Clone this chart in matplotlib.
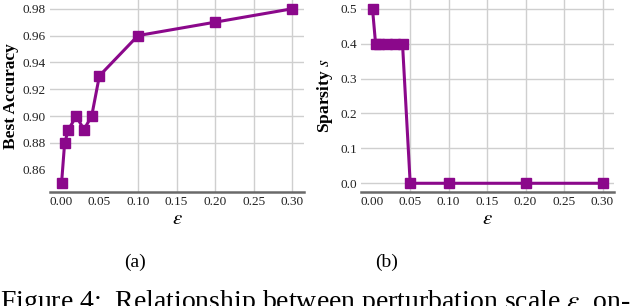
import matplotlib
matplotlib.use("Agg")
import matplotlib.pyplot as plt

# data
eps = [0.001, 0.005, 0.01, 0.02, 0.03, 0.04, 0.05, 0.1, 0.2, 0.3]
best_acc = [0.85, 0.88, 0.89, 0.90, 0.89, 0.90, 0.93, 0.96, 0.97, 0.98]
sparsity = [0.5, 0.4, 0.4, 0.4, 0.4, 0.4, 0.0, 0.0, 0.0, 0.0]
xticks = [0.0, 0.05, 0.10, 0.15, 0.20, 0.25, 0.30]
acc_ticks = [0.86, 0.88, 0.90, 0.92, 0.94, 0.96, 0.98]
sp_ticks = [0.0, 0.1, 0.2, 0.3, 0.4, 0.5]

plt.rcParams['font.family'] = ['Liberation Serif', 'DejaVu Serif']
plt.rcParams['mathtext.fontset'] = 'stix'

W, H = 640, 306
fig = plt.figure(figsize=(W / 100, H / 100), dpi=100)

purple = '#8b088b'
grid_c = '#cfcfcf'


def px_axes(x0, x1, y0, y1):
    # pixel box (top-left origin) -> figure fraction
    return fig.add_axes([x0 / W, 1 - y1 / H, (x1 - x0) / W, (y1 - y0) / H])


def style(ax, yvals, yt, yfmt):
    ax.plot(eps, yvals, color=purple, lw=2.2, marker='s', ms=6.5,
            mec=purple, mfc=purple, zorder=3)
    ax.set_xticks(xticks)
    ax.set_xticklabels(['%.2f' % t for t in xticks])
    ax.set_yticks(yt)
    ax.set_yticklabels([yfmt % t for t in yt])
    ax.grid(True, color=grid_c, lw=1.0, zorder=0)
    ax.set_axisbelow(True)
    for s in ['left', 'top', 'right']:
        ax.spines[s].set_visible(False)
    ax.spines['bottom'].set_color('#6a6a6a')
    ax.spines['bottom'].set_linewidth(1.8)
    ax.tick_params(axis='both', length=0, labelsize=9.5, colors='#222222')
    ax.tick_params(axis='y', pad=3)
    ax.tick_params(axis='x', pad=3)
    ax.set_xlabel(r'$\varepsilon$', fontsize=15, labelpad=1)


ax1 = px_axes(50, 304, 0, 192)
style(ax1, best_acc, acc_ticks, '%.2f')
ax1.set_ylabel('Best Accuracy', fontsize=12.5, fontweight='bold')
ax1.yaxis.set_label_coords(-0.122, 0.5)
# these grid lines don't show in the original
gl = ax1.xaxis.get_gridlines()
gl[0].set_visible(False)
gl[1].set_visible(False)
ax1.yaxis.get_gridlines()[0].set_visible(False)

ax2 = px_axes(361, 614, 0, 192)
style(ax2, sparsity, sp_ticks, '%.1f')
ax2.set_ylabel(r'Sparsity $s$', fontsize=12.5, fontweight='bold')
ax2.yaxis.set_label_coords(-0.103, 0.5)
ax2.xaxis.get_gridlines()[0].set_visible(False)

fig.text(135 / W, 1 - 262.5 / H, '(a)', fontsize=14, ha='center', va='center')
fig.text(387 / W, 1 - 262.5 / H, '(b)', fontsize=14, ha='center', va='center')
# caption runs past the bottom edge, as in the source crop
fig.text(0, 1 - 309 / H, r'Figure 4:  Relationship between perturbation scale $\varepsilon$  on-',
         fontsize=20, ha='left', va='baseline')

fig.savefig('out.png', dpi=100)
